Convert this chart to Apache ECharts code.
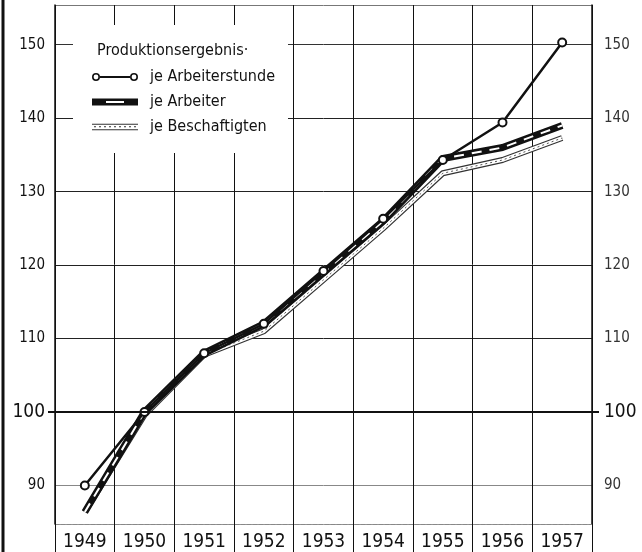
<!DOCTYPE html>
<html>
<head>
<meta charset="utf-8">
<title>Produktionsergebnis</title>
<script src="https://cdn.jsdelivr.net/npm/echarts@6/dist/echarts.min.js"></script>
<style>
    html, body { margin: 0; padding: 0; background: #fff; }
    #chart { width: 642px; height: 552px; }
</style>
</head>
<body>
<div id="chart"></div>
<script>
// Werte (Index 1950 = 100)
const years = ['1949', '1950', '1951', '1952', '1953', '1954', '1955', '1956', '1957']
const jeArbeiterstunde = [90, 100, 108, 112, 119.2, 126.3, 134.3, 139.4, 150.3]
const jeArbeiter = [86.4, 100, 108, 112, 119, 126, 134.5, 136, 139]
const jeBeschaeftigten = [86.4, 99.6, 107.8, 111, 118, 125, 132.5, 134.3, 137.3]
const baseTick = [100]

const yMin = 84.76
const yMax = 155.4

const FONT = "'DejaVu Sans Condensed', 'Liberation Sans Narrow', 'Roboto Condensed', Roboto, sans-serif"
const INK = '#111'

// legend icons
const ICON_STUNDE = 'path://M0 5A4 4 0 1 1 8 5A4 4 0 1 1 0 5ZM1.6 5A2.4 2.4 0 1 0 6.4 5A2.4 2.4 0 1 0 1.6 5Z'
    + 'M8 4H38V6H8ZM38 5A4 4 0 1 1 46 5A4 4 0 1 1 38 5ZM39.6 5A2.4 2.4 0 1 0 44.4 5A2.4 2.4 0 1 0 39.6 5Z'
const ICON_ARBEITER = 'path://M0 1.5H46V8.5H0ZM14 4V6H32V4Z'
let ICON_BESCH = 'path://M0 2H46V3H0ZM0 7.5H46V8.5H0Z'
for (let x = 2; x < 44; x += 5) {
    ICON_BESCH += 'M' + x + ' 4.6H' + (x + 2) + 'V5.6H' + x + 'Z'
}

const chart = echarts.init(document.getElementById('chart'))

const axisLabelText = (v) => {
    if (v === 100) return '{big|100}'
    return v % 10 === 0 ? '{n|' + v + '}' : ''
}

// only the short tick at 100, on its own invisible axis
const tickAxis = (position) => ({
    type: 'value',
    position,
    min: yMin,
    max: yMax,
    axisLine: { show: false },
    axisLabel: { show: false },
    splitLine: { show: false },
    axisTick: {
        show: true,
        customValues: baseTick,
        length: 7,
        lineStyle: { color: INK, width: 2 },
    },
})

chart.setOption({
    animation: false,
    backgroundColor: '#fff',
    title: {
        text: 'Produktionsergebnis·',
        left: 97,
        top: 43,
        padding: 0,
        textStyle: {
            fontFamily: FONT,
            fontSize: 16,
            fontWeight: 'normal',
            color: INK,
        },
    },
    legend: {
        orient: 'vertical',
        left: 73,
        top: 25,
        padding: [42, 13, 16, 19],
        backgroundColor: '#fff',
        itemWidth: 46,
        itemHeight: 10,
        itemGap: 5,
        selectedMode: false,
        itemStyle: { borderWidth: 0 },
        textStyle: {
            fontFamily: FONT,
            fontSize: 16,
            color: INK,
            lineHeight: 20,
            padding: [0, 0, 0, 7],
        },
        data: [
            { name: 'je Arbeiterstunde', icon: ICON_STUNDE, itemStyle: { color: INK } },
            { name: 'je Arbeiter', icon: ICON_ARBEITER, itemStyle: { color: INK } },
            { name: 'je Beschaftigten', icon: ICON_BESCH, itemStyle: { color: '#333' } },
        ],
    },
    graphic: [
        {
            type: 'line',
            shape: { x1: 3, y1: 0, x2: 3, y2: 552 },
            style: { stroke: INK, lineWidth: 3 },
        },
    ],
    grid: {
        left: 55,
        right: 50,
        top: 5,
        bottom: 28,
        containLabel: false,
    },
    xAxis: {
        type: 'category',
        data: years,
        boundaryGap: true,
        axisLine: {
            onZero: false,
            lineStyle: { color: '#888', type: 'dashed' },
        },
        axisTick: {
            show: true,
            interval: 0,
            length: 28,
            lineStyle: { color: INK, width: 1 },
        },
        axisLabel: {
            interval: 0,
            margin: 9,
            fontFamily: FONT,
            fontSize: 19,
            color: INK,
        },
        splitLine: {
            show: true,
            interval: 0,
            lineStyle: { color: INK, width: 1 },
        },
    },
    yAxis: [
        {
            type: 'value',
            position: 'left',
            min: yMin,
            max: yMax,
            minInterval: 10,
            maxInterval: 10,
            axisLine: { show: true, lineStyle: { color: INK, width: 1.5 } },
            axisTick: { show: false },
            axisLabel: {
                showMinLabel: false,
                showMaxLabel: false,
                margin: 10,
                formatter: axisLabelText,
                rich: {
                    n: { fontFamily: FONT, fontSize: 15, color: INK },
                    big: { fontFamily: FONT, fontSize: 19, color: INK },
                },
            },
            splitLine: {
                show: true,
                lineStyle: {
                    color: ['#999', '#888', INK, '#222', '#222', '#222', '#222', '#333', '#777'],
                    width: 1,
                },
            },
        },
        {
            type: 'value',
            position: 'right',
            min: yMin,
            max: yMax,
            minInterval: 10,
            maxInterval: 10,
            axisLine: { show: true, lineStyle: { color: INK, width: 1.5 } },
            axisTick: { show: false },
            axisLabel: {
                showMinLabel: false,
                showMaxLabel: false,
                margin: 12,
                formatter: axisLabelText,
                rich: {
                    n: { fontFamily: FONT, fontSize: 15, color: '#333' },
                    big: { fontFamily: FONT, fontSize: 19, color: INK },
                },
            },
            splitLine: { show: false },
        },
        tickAxis('left'),
        tickAxis('right'),
    ],
    series: [
        {
            name: 'je Beschaftigten',
            type: 'line',
            data: jeBeschaeftigten,
            symbol: 'none',
            lineStyle: { color: '#333', width: 6, join: 'round' },
            itemStyle: { color: '#333' },
        },
        {
            name: 'Beschaftigten-innen',
            type: 'line',
            data: jeBeschaeftigten,
            symbol: 'none',
            silent: true,
            lineStyle: { color: '#fff', width: 3.6, join: 'round' },
        },
        {
            name: 'Beschaftigten-punkte',
            type: 'line',
            data: jeBeschaeftigten,
            symbol: 'none',
            silent: true,
            lineStyle: { color: '#555', width: 1, type: [2, 3] },
        },
        {
            name: 'je Arbeiter',
            type: 'line',
            data: jeArbeiter,
            symbol: 'none',
            lineStyle: { color: INK, width: 7, join: 'round' },
            itemStyle: { color: INK },
        },
        {
            name: 'Arbeiter-streifen',
            type: 'line',
            data: jeArbeiter,
            symbol: 'none',
            silent: true,
            lineStyle: { color: '#fff', width: 2, type: [10, 8] },
        },
        {
            name: 'je Arbeiterstunde',
            type: 'line',
            data: jeArbeiterstunde,
            symbol: 'emptyCircle',
            symbolSize: 8,
            lineStyle: { color: INK, width: 2.5 },
            itemStyle: { color: INK, borderWidth: 1.5 },
            markLine: {
                silent: true,
                symbol: ['none', 'none'],
                label: { show: false },
                lineStyle: { color: INK, width: 2, type: 'solid' },
                data: [{ yAxis: 100 }],
            },
        },
    ],
})
</script>
</body>
</html>
